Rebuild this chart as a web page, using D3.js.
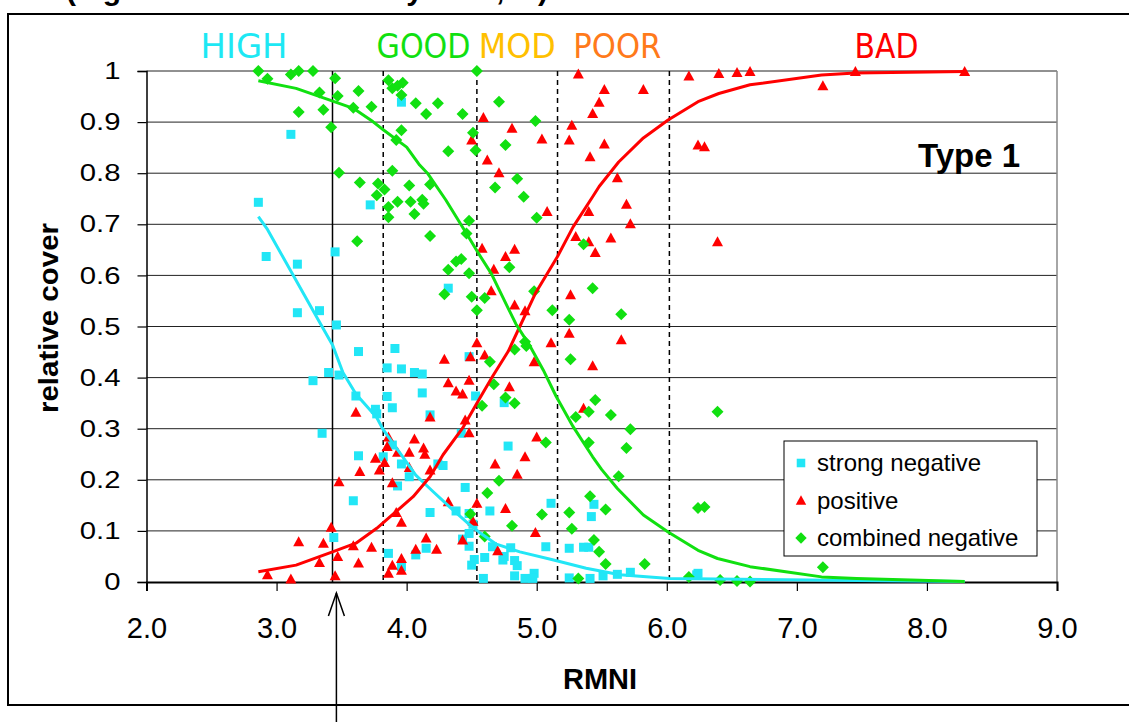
<!DOCTYPE html>
<html><head><meta charset="utf-8">
<script src="https://cdn.jsdelivr.net/npm/d3@7/dist/d3.min.js"></script>
<style>
html,body{margin:0;padding:0;background:#fff;overflow:hidden}
svg{display:block}
text{font-family:"Liberation Sans",Arial,sans-serif}
</style></head>
<body>
<svg id="chart" width="1129" height="722"></svg>
<script>
// ---------- data ----------
const xTicks = [2,3,4,5,6,7,8,9];
const yTicks = [0,0.1,0.2,0.3,0.4,0.5,0.6,0.7,0.8,0.9,1];
const yTickLabels = ["0","0.1","0.2","0.3","0.4","0.5","0.6","0.7","0.8","0.9","1"];

const classNames = ["HIGH","GOOD","MOD","POOR","BAD"];
const classCenters = [2.75,4.13,4.85,5.62,7.69];
const classColors = ["#1de8f4","#11e011","#ffc000","#ff7a1a","#ff0000"];
const classWidths = [87,94,77,88,64];

const solidBoundary = [3.43];
const dashedBoundaries = [3.82,4.54,5.16,6.02];
const arrowX = 3.46;

const seriesNames = ["strong negative","positive","combined negative"];

const strongX = [2.86,3.11,3.96,3.72,2.92,3.16,3.45,3.16,3.33,3.46,4.32,3.63,3.91,3.40,3.48,3.28,3.85,3.96,4.06,4.12,4.12,4.48,3.61,3.85,3.76,3.77,3.89,4.18,4.53,3.35,4.42,3.63,3.82,3.89,3.96,4.02,4.24,4.28,3.93,3.59,4.45,4.18,4.38,4.48,4.64,3.44,3.86,4.15,4.07,4.43,4.48,4.50,4.60,4.59,4.51,3.96,4.78,4.75,4.75,5.11,5.44,5.42,4.48,4.66,4.80,5.07,5.25,5.36,5.40,4.52,4.74,4.83,4.85,4.83,4.91,4.98,4.97,5.25,5.41,5.51,5.62,5.72,6.23,6.24];
const strongY = [0.743,0.876,0.939,0.738,0.637,0.622,0.646,0.527,0.531,0.503,0.575,0.451,0.457,0.410,0.405,0.394,0.419,0.417,0.410,0.407,0.370,0.441,0.364,0.363,0.338,0.329,0.341,0.327,0.364,0.291,0.291,0.247,0.245,0.268,0.231,0.206,0.231,0.228,0.188,0.159,0.185,0.136,0.139,0.134,0.139,0.087,0.056,0.066,0.053,0.084,0.070,0.033,0.048,0.007,0.113,0.030,0.266,0.050,0.351,0.154,0.152,0.128,0.095,0.069,0.067,0.069,0.066,0.068,0.068,0.044,0.043,0.042,0.032,0.012,0.007,0.017,0.007,0.008,0.007,0.012,0.015,0.019,0.014,0.017];

const positiveX = [2.93,3.11,3.17,3.36,3.33,3.42,3.45,3.47,3.48,3.59,3.63,3.73,3.61,3.64,3.76,3.79,3.83,3.86,3.85,3.93,3.89,3.86,3.89,3.96,3.96,3.92,3.96,4.06,4.02,4.13,4.14,4.02,4.18,4.18,4.15,4.07,4.23,4.32,4.45,4.48,4.48,4.43,4.38,4.32,4.29,4.54,4.49,4.60,4.54,4.51,4.43,4.68,4.70,4.76,4.79,4.98,5.11,5.25,5.65,5.43,5.36,5.00,4.91,4.85,4.99,5.32,5.52,5.82,6.17,5.48,5.43,4.59,5.27,4.81,4.50,5.04,5.25,5.52,4.62,5.41,4.71,6.24,6.29,5.62,5.08,5.40,5.69,5.72,5.30,5.40,5.57,5.45,4.58,4.76,4.83,4.67,4.65,4.83,4.91,5.26,6.40,6.54,6.64,7.45,8.29,7.20,6.39];
const positiveY = [0.014,0.006,0.079,0.076,0.038,0.107,0.012,0.050,0.196,0.071,0.037,0.068,0.332,0.216,0.242,0.219,0.234,0.284,0.265,0.254,0.194,0.017,0.033,0.046,0.023,0.136,0.117,0.280,0.254,0.262,0.250,0.224,0.219,0.323,0.086,0.064,0.064,0.157,0.317,0.292,0.395,0.368,0.374,0.390,0.436,0.468,0.441,0.444,0.154,0.119,0.082,0.231,0.061,0.144,0.382,0.431,0.468,0.487,0.474,0.423,0.340,0.284,0.245,0.211,0.097,0.994,0.964,0.964,0.990,0.939,0.917,0.909,0.894,0.888,0.865,0.867,0.865,0.857,0.826,0.832,0.801,0.855,0.852,0.791,0.725,0.725,0.739,0.701,0.676,0.666,0.673,0.645,0.653,0.637,0.651,0.612,0.570,0.542,0.531,0.562,0.995,0.997,0.999,0.999,0.999,0.971,0.666];

const combinedX = [2.86,2.93,3.11,3.17,3.28,3.45,3.33,3.47,3.63,3.17,3.36,3.59,3.73,3.42,3.86,3.97,3.89,3.93,3.96,4.07,4.15,4.24,4.43,4.54,4.71,3.96,3.92,4.51,4.53,4.32,4.76,3.48,3.64,3.89,3.78,3.83,3.77,4.02,3.93,4.03,4.12,4.13,3.86,4.06,3.86,4.18,4.68,4.48,4.46,4.18,3.62,4.42,4.38,4.32,4.48,4.29,4.50,4.60,4.54,4.99,4.85,4.90,5.00,5.36,4.79,4.98,5.43,5.12,5.65,5.25,4.83,4.91,4.92,4.64,5.26,4.67,4.76,4.83,4.58,5.45,5.30,5.40,5.57,5.72,5.69,5.40,5.07,5.63,4.71,4.62,5.41,5.53,5.04,5.25,4.49,4.81,5.27,4.60,5.44,5.48,5.53,5.83,5.32,6.17,6.24,6.29,6.39,7.20,6.41,6.54,6.64];
const combinedY = [1.000,0.985,0.993,1.000,1.000,0.986,0.958,0.951,0.961,0.920,0.924,0.928,0.930,0.890,0.982,0.977,0.966,0.971,0.953,0.937,0.916,0.937,0.916,1.000,0.940,0.884,0.865,0.879,0.845,0.843,0.855,0.801,0.782,0.805,0.780,0.768,0.757,0.776,0.744,0.744,0.748,0.740,0.734,0.720,0.714,0.778,0.772,0.707,0.682,0.677,0.667,0.632,0.627,0.611,0.604,0.563,0.558,0.556,0.532,0.902,0.789,0.754,0.713,0.661,0.616,0.569,0.575,0.532,0.524,0.513,0.455,0.470,0.462,0.431,0.436,0.387,0.361,0.350,0.345,0.356,0.323,0.333,0.327,0.299,0.262,0.273,0.273,0.207,0.198,0.174,0.168,0.142,0.132,0.136,0.133,0.110,0.104,0.089,0.082,0.059,0.035,0.035,0.007,0.010,0.145,0.147,0.333,0.029,0.004,0.002,0.001];

const fitStrongX = [2.86,2.93,3.32,3.43,3.51,3.61,3.77,3.82,3.97,4.07,4.19,4.33,4.47,4.56,4.69,4.87,5.13,5.38,5.64,6.02,7.46,8.29];
const fitStrongY = [0.715,0.690,0.513,0.464,0.410,0.368,0.322,0.298,0.245,0.209,0.180,0.147,0.115,0.097,0.074,0.059,0.043,0.027,0.014,0.007,0.003,0.001];
const fitPositiveX = [2.86,3.15,3.43,3.61,3.77,3.92,4.05,4.18,4.28,4.43,4.54,4.66,4.78,4.87,4.99,5.16,5.28,5.43,5.48,5.63,5.82,6.01,6.24,6.40,6.64,7.19,7.45,8.29];
const fitPositiveY = [0.020,0.033,0.059,0.076,0.105,0.138,0.167,0.206,0.249,0.301,0.350,0.402,0.451,0.500,0.565,0.637,0.695,0.754,0.774,0.822,0.869,0.904,0.940,0.956,0.973,0.992,0.996,0.999];
const fitCombinedX = [2.86,3.15,3.41,3.59,3.74,3.82,4.00,4.10,4.16,4.30,4.46,4.56,4.65,4.78,4.84,4.95,5.05,5.15,5.28,5.43,5.50,5.62,5.82,6.01,6.24,6.39,6.64,7.19,7.46,8.29];
const fitCombinedY = [0.981,0.966,0.943,0.927,0.901,0.885,0.851,0.816,0.800,0.748,0.682,0.640,0.604,0.536,0.505,0.461,0.415,0.363,0.304,0.245,0.220,0.183,0.131,0.098,0.062,0.046,0.030,0.010,0.007,0.001];

// ---------- drawing ----------
const svg = d3.select("#chart");
const x = d3.scaleLinear().domain([2,9]).range([146.5,1057]);
const y = d3.scaleLinear().domain([0,1]).range([582,71]);
const CY="#22e6f6", RD="#ff0000", GR="#11e011";

// outer frame
svg.append("rect").attr("x",8).attr("y",14).attr("width",1200).attr("height",691)
  .attr("fill","none").attr("stroke","#000").attr("stroke-width",2);

// cut-off title at top (the reference shows only its lower edge)
const tt = svg.append("text").attr("y",0).attr("font-size",30).attr("font-weight","bold").attr("fill","#000");
tt.append("tspan").attr("x",66).text("(high");
tt.append("tspan").attr("x",388).text("by");
tt.append("tspan").attr("x",496).text(",");
tt.append("tspan").attr("x",538).text(")");

// gridlines
svg.append("g").selectAll("line").data(yTicks.filter(d=>d>0)).join("line")
  .attr("x1",x(2)).attr("x2",x(9)).attr("y1",d=>y(d)).attr("y2",d=>y(d))
  .attr("stroke","#222").attr("stroke-width",1);
// right border
svg.append("line").attr("x1",x(9)).attr("x2",x(9)).attr("y1",y(1)).attr("y2",y(0))
  .attr("stroke","#888").attr("stroke-width",1.5);

// boundaries
svg.append("g").selectAll("line").data(dashedBoundaries).join("line")
  .attr("x1",d=>x(d)).attr("x2",d=>x(d)).attr("y1",y(1)).attr("y2",y(0))
  .attr("stroke","#000").attr("stroke-width",1.5).attr("stroke-dasharray","5,4");
svg.append("g").selectAll("line").data(solidBoundary).join("line")
  .attr("x1",d=>x(d)).attr("x2",d=>x(d)).attr("y1",y(1)).attr("y2",y(0))
  .attr("stroke","#000").attr("stroke-width",1.5);

// axes
const xAxis = d3.axisBottom(x).tickValues(xTicks).tickFormat(d3.format(".1f")).tickSize(9).tickPadding(26);
const gx = svg.append("g").attr("transform",`translate(0,${y(0)})`).call(xAxis);
gx.select(".domain").attr("stroke","#000").attr("stroke-width",2);
gx.selectAll(".tick line").attr("stroke","#000").attr("stroke-width",1.2);
gx.selectAll("text").attr("font-size",29).attr("fill","#000").attr("font-family","'Liberation Sans',Arial,sans-serif");

const yAxis = d3.axisLeft(y).tickValues(yTicks).tickFormat((d,i)=>yTickLabels[i]).tickSize(9).tickPadding(17);
const gy = svg.append("g").attr("transform",`translate(${x(2)},0)`).call(yAxis);
gy.select(".domain").attr("stroke","#000").attr("stroke-width",1.5);
gy.selectAll(".tick line").attr("stroke","#000").attr("stroke-width",1.2);
gy.selectAll("text").attr("font-size",24).attr("fill","#000").attr("font-family","'Liberation Sans',Arial,sans-serif")
  .attr("x",-26/1.22).attr("transform","scale(1.22,1)");

// marker shapes
const sq = "M-4.5,-4.5H4.5V4.5H-4.5Z";
const tri = "M0,-5.5L5.5,4.5L-5.5,4.5Z";
const dia = "M0,-6L6,0L0,6L-6,0Z";

svg.append("g").selectAll("path").data(strongX).join("path")
  .attr("d",sq).attr("fill",CY).attr("transform",(d,i)=>`translate(${x(d)},${y(strongY[i])})`);
svg.append("g").selectAll("path").data(positiveX).join("path")
  .attr("d",tri).attr("fill",RD).attr("transform",(d,i)=>`translate(${x(d)},${y(positiveY[i])})`);
svg.append("g").selectAll("path").data(combinedX).join("path")
  .attr("d",dia).attr("fill",GR).attr("transform",(d,i)=>`translate(${x(d)},${y(combinedY[i])})`);

// fitted lines
const line = d3.line().x(d=>x(d[0])).y(d=>y(d[1]));
function drawFit(xs,ys,col){
  svg.append("path").datum(xs.map((v,i)=>[v,ys[i]])).attr("d",line)
    .attr("fill","none").attr("stroke",col).attr("stroke-width",3).attr("stroke-linejoin","round");
}
drawFit(fitStrongX,fitStrongY,CY);
drawFit(fitPositiveX,fitPositiveY,RD);
drawFit(fitCombinedX,fitCombinedY,GR);

// class labels
svg.append("g").selectAll("text").data(classNames).join("text")
  .attr("x",(d,i)=>x(classCenters[i])).attr("y",58).attr("text-anchor","middle")
  .attr("font-size",34).attr("fill",(d,i)=>classColors[i])
  .style("font-family","'DejaVu Sans',sans-serif")
  .attr("textLength",(d,i)=>classWidths[i]).attr("lengthAdjust","spacingAndGlyphs")
  .text(d=>d);

// Type 1
svg.append("text").attr("x",918).attr("y",167).attr("font-size",33).attr("font-weight","bold").text("Type 1");

// legend
const lg = svg.append("g");
lg.append("rect").attr("x",784).attr("y",441).attr("width",253).attr("height",115)
  .attr("fill","#fff").attr("stroke","#000").attr("stroke-width",1);
const lgShapes=[sq,tri,dia], lgCols=[CY,RD,GR];
seriesNames.forEach((n,i)=>{
  const yy = 463 + i*37.5;
  lg.append("path").attr("d",lgShapes[i]).attr("fill",lgCols[i]).attr("transform",`translate(801,${yy}) scale(0.95)`);
  lg.append("text").attr("x",817).attr("y",yy).attr("dy","0.35em").attr("font-size",24).text(n);
});

// axis titles
svg.append("text").attr("transform","translate(58,318) rotate(-90)").attr("text-anchor","middle")
  .attr("font-size",27).attr("font-weight","bold").attr("textLength",190).attr("lengthAdjust","spacingAndGlyphs")
  .text("relative cover");
svg.append("text").attr("x",600).attr("y",689).attr("text-anchor","middle")
  .attr("font-size",30).attr("font-weight","bold").attr("textLength",74).attr("lengthAdjust","spacingAndGlyphs")
  .text("RMNI");

// arrow
const ax = x(arrowX);
svg.append("line").attr("x1",ax).attr("x2",ax).attr("y1",593).attr("y2",722).attr("stroke","#000").attr("stroke-width",1.5);
svg.append("path").attr("d",`M${ax-8},616L${ax},593L${ax+8},616`).attr("fill","none").attr("stroke","#000").attr("stroke-width",1.5);
</script>
</body></html>
